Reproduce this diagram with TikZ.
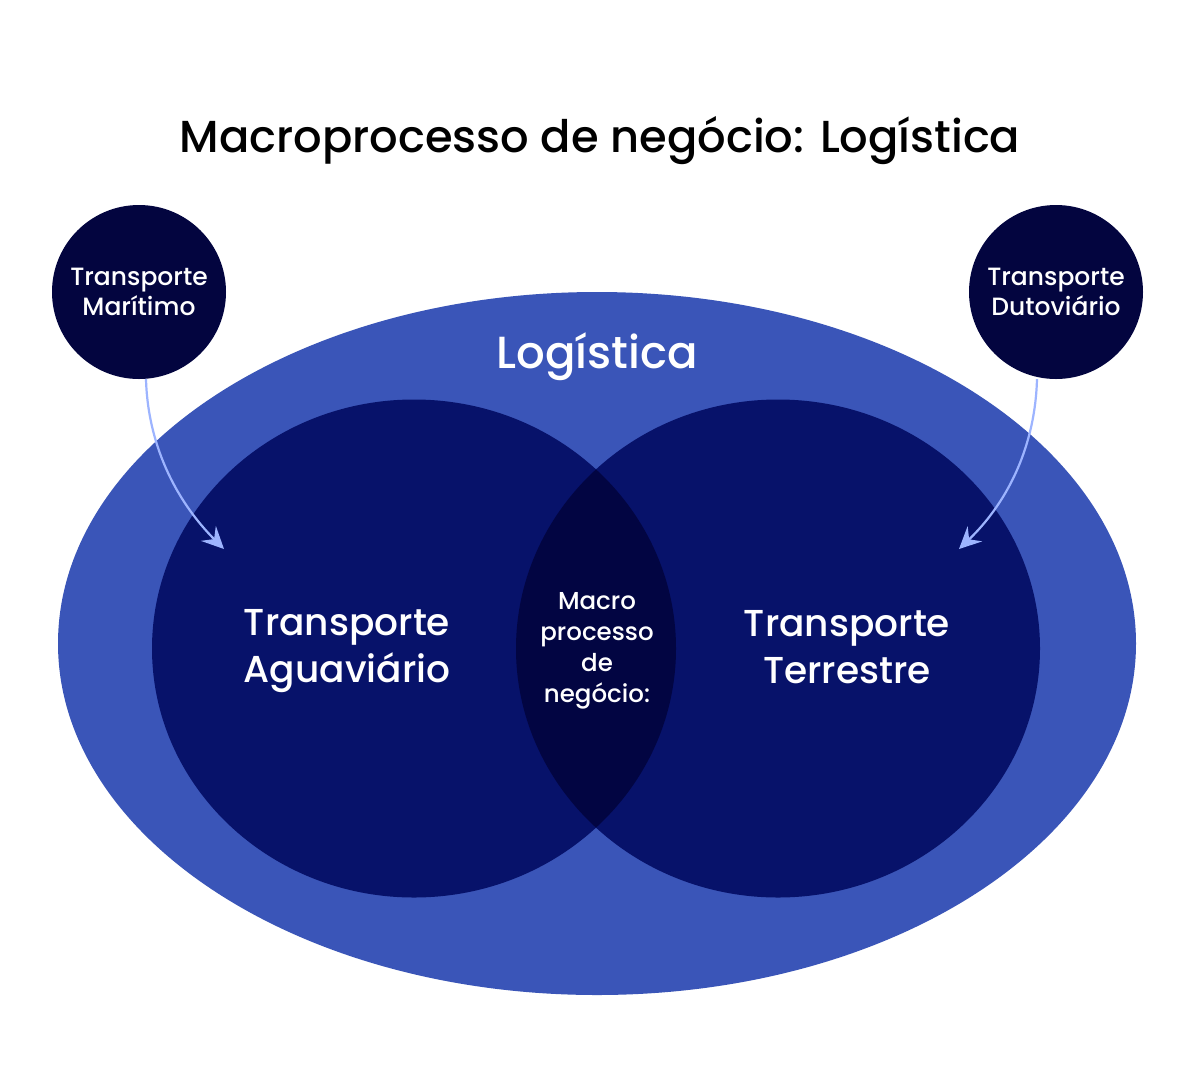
\documentclass[tikz,border=0pt]{standalone}
\usepackage{fontspec}
\setmainfont{Poppins}
\newfontfamily\pmed{Poppins Medium}
\usetikzlibrary{arrows.meta}
\definecolor{outerblue}{HTML}{3A55B8}
\definecolor{innernavy}{HTML}{07126A}
\definecolor{lensnavy}{HTML}{020542}
\definecolor{smallnavy}{HTML}{03053F}
\definecolor{arrowblue}{HTML}{9DB4FF}
\tikzset{
  smallc/.style={circle, fill=smallnavy, minimum size=174pt, inner sep=0pt, text=white, align=center, font=\pmed\fontsize{25}{30}\selectfont},
  biglabel/.style={text=white, align=center, font=\pmed\fontsize{37.5}{47}\selectfont},
  lenslabel/.style={text=white, align=center, font=\pmed\fontsize{24.5}{31}\selectfont},
  conn/.style={draw=arrowblue, line width=2.2pt, -{Stealth[length=22pt, width=21pt, inset=8pt]}},
}
\begin{document}
\begin{tikzpicture}[x=1pt,y=-1pt]
\useasboundingbox (0,0) rectangle (1200,1080);
\fill[white] (0,0) rectangle (1200,1080);
% outer ellipse
\fill[outerblue] (597,643.5) ellipse [x radius=539, y radius=351.5];
% inner circles
\fill[innernavy] (414,648.5) ellipse [x radius=262, y radius=249];
\fill[innernavy] (778,648.5) ellipse [x radius=262, y radius=249];
\begin{scope}
  \clip (414,648.5) ellipse [x radius=262, y radius=249];
  \fill[lensnavy] (778,648.5) ellipse [x radius=262, y radius=249];
\end{scope}
% title
\node[font=\pmed\fontsize{44.8}{50}\selectfont, text=black] (title) at (600,141) {Macroprocesso de negócio: Logística};
\node[text=white, font=\pmed\fontsize{45}{50}\selectfont] (log) at (597,357) {Logística};
\node[biglabel] (agua) at (347,651) {Transporte\\Aguaviário};
\node[biglabel] (terr) at (847,647) {Transporte\\Terrestre};
\node[lenslabel] (macro) at (597,651) {Macro\\processo\\de\\negócio:};
% small circles
\node[smallc] (mar) at (139,292) {Transporte\\Marítimo};
\node[smallc] (dut) at (1056,292) {Transporte\\Dutoviário};
\coordinate (tipL) at (224,549);
\coordinate (tipR) at (959,549);
\draw[conn] (mar.south) ++(7,0) coordinate (sL) (sL) .. controls (148,450) and (180,505) .. (tipL);
\draw[conn] (dut.south) ++(-19,0) coordinate (sR) (sR) .. controls (1035,450) and (1005,505) .. (tipR);
\end{tikzpicture}
\end{document}
